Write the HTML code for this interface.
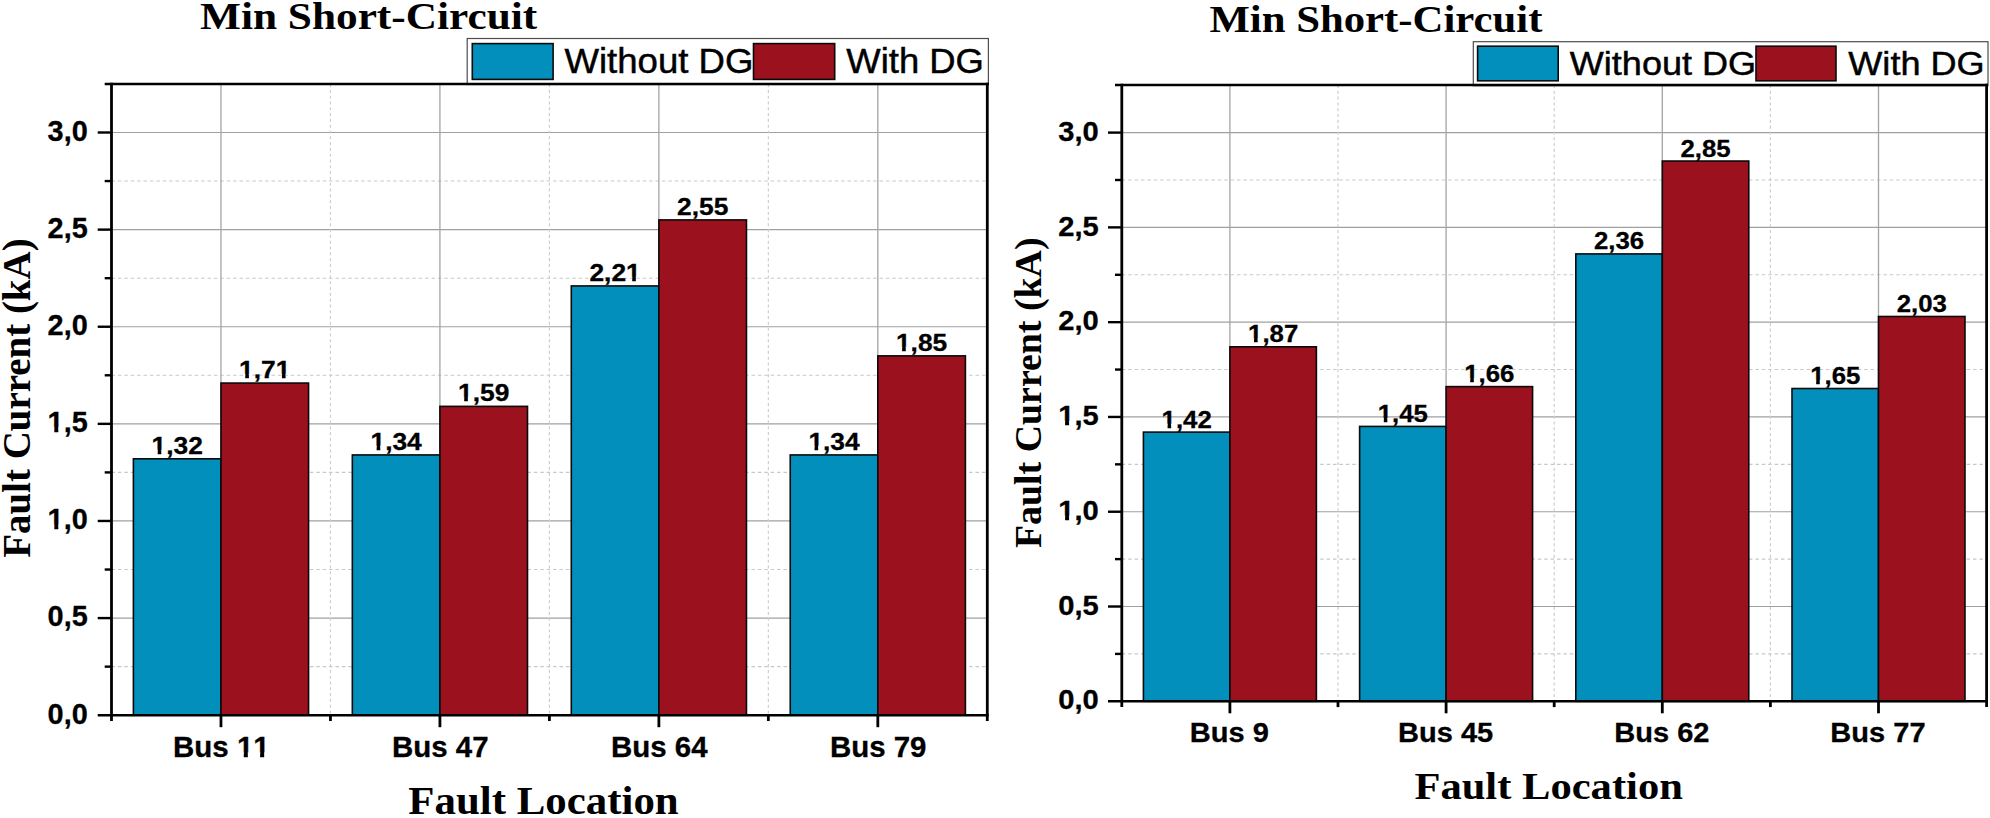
<!DOCTYPE html>
<html lang="en">
<head>
<meta charset="utf-8">
<title>Min Short-Circuit fault current</title>
<style>
html,body{margin:0;padding:0;background:#fff;}
body{width:1990px;height:818px;overflow:hidden;}
svg{display:block;}
text{fill:#000;}
.sans{font-family:'Liberation Sans', Arial, sans-serif;font-kerning:none;}
.serif{font-family:'Liberation Serif', 'Times New Roman', serif;}
.b{font-weight:bold;}
.n{font-weight:normal;}
</style>
</head>
<body>
<svg width="1990" height="818" viewBox="0 0 1990 818">
<rect width="1990" height="818" fill="#fff"/>
<g shape-rendering="geometricPrecision">
<line x1="111.5" x2="987.3" y1="666.64" y2="666.64" stroke="#c8c8c8" stroke-width="1.1" stroke-dasharray="3.5 2.9"/>
<line x1="111.5" x2="987.3" y1="618.08" y2="618.08" stroke="#a0a0a0" stroke-width="1.2"/>
<line x1="111.5" x2="987.3" y1="569.53" y2="569.53" stroke="#c8c8c8" stroke-width="1.1" stroke-dasharray="3.5 2.9"/>
<line x1="111.5" x2="987.3" y1="520.97" y2="520.97" stroke="#a0a0a0" stroke-width="1.2"/>
<line x1="111.5" x2="987.3" y1="472.41" y2="472.41" stroke="#c8c8c8" stroke-width="1.1" stroke-dasharray="3.5 2.9"/>
<line x1="111.5" x2="987.3" y1="423.85" y2="423.85" stroke="#a0a0a0" stroke-width="1.2"/>
<line x1="111.5" x2="987.3" y1="375.29" y2="375.29" stroke="#c8c8c8" stroke-width="1.1" stroke-dasharray="3.5 2.9"/>
<line x1="111.5" x2="987.3" y1="326.73" y2="326.73" stroke="#a0a0a0" stroke-width="1.2"/>
<line x1="111.5" x2="987.3" y1="278.18" y2="278.18" stroke="#c8c8c8" stroke-width="1.1" stroke-dasharray="3.5 2.9"/>
<line x1="111.5" x2="987.3" y1="229.62" y2="229.62" stroke="#a0a0a0" stroke-width="1.2"/>
<line x1="111.5" x2="987.3" y1="181.06" y2="181.06" stroke="#c8c8c8" stroke-width="1.1" stroke-dasharray="3.5 2.9"/>
<line x1="111.5" x2="987.3" y1="132.5" y2="132.5" stroke="#a0a0a0" stroke-width="1.2"/>
<line x1="220.97" x2="220.97" y1="84.05" y2="715.2" stroke="#a4a4a4" stroke-width="1.3"/>
<line x1="330.45" x2="330.45" y1="84.05" y2="715.2" stroke="#cecece" stroke-width="1.2" stroke-dasharray="3.1 2.7"/>
<line x1="439.92" x2="439.92" y1="84.05" y2="715.2" stroke="#a4a4a4" stroke-width="1.3"/>
<line x1="549.4" x2="549.4" y1="84.05" y2="715.2" stroke="#cecece" stroke-width="1.2" stroke-dasharray="3.1 2.7"/>
<line x1="658.88" x2="658.88" y1="84.05" y2="715.2" stroke="#a4a4a4" stroke-width="1.3"/>
<line x1="768.35" x2="768.35" y1="84.05" y2="715.2" stroke="#cecece" stroke-width="1.2" stroke-dasharray="3.1 2.7"/>
<line x1="877.82" x2="877.82" y1="84.05" y2="715.2" stroke="#a4a4a4" stroke-width="1.3"/>
<rect x="133.39" y="458.81" width="87.58" height="256.39" fill="#028fbb" stroke="#0a0a0a" stroke-width="1.6"/>
<rect x="220.97" y="383.06" width="87.58" height="332.14" fill="#9b111e" stroke="#0a0a0a" stroke-width="1.6"/>
<rect x="352.34" y="454.93" width="87.58" height="260.27" fill="#028fbb" stroke="#0a0a0a" stroke-width="1.6"/>
<rect x="439.92" y="406.37" width="87.58" height="308.83" fill="#9b111e" stroke="#0a0a0a" stroke-width="1.6"/>
<rect x="571.29" y="285.94" width="87.58" height="429.26" fill="#028fbb" stroke="#0a0a0a" stroke-width="1.6"/>
<rect x="658.88" y="219.91" width="87.58" height="495.30" fill="#9b111e" stroke="#0a0a0a" stroke-width="1.6"/>
<rect x="790.24" y="454.93" width="87.58" height="260.27" fill="#028fbb" stroke="#0a0a0a" stroke-width="1.6"/>
<rect x="877.82" y="355.87" width="87.58" height="359.33" fill="#9b111e" stroke="#0a0a0a" stroke-width="1.6"/>
<line x1="1121.8" x2="1986.6" y1="653.91" y2="653.91" stroke="#c8c8c8" stroke-width="1.1" stroke-dasharray="3.5 2.9"/>
<line x1="1121.8" x2="1986.6" y1="606.52" y2="606.52" stroke="#a0a0a0" stroke-width="1.2"/>
<line x1="1121.8" x2="1986.6" y1="559.12" y2="559.12" stroke="#c8c8c8" stroke-width="1.1" stroke-dasharray="3.5 2.9"/>
<line x1="1121.8" x2="1986.6" y1="511.73" y2="511.73" stroke="#a0a0a0" stroke-width="1.2"/>
<line x1="1121.8" x2="1986.6" y1="464.34" y2="464.34" stroke="#c8c8c8" stroke-width="1.1" stroke-dasharray="3.5 2.9"/>
<line x1="1121.8" x2="1986.6" y1="416.95" y2="416.95" stroke="#a0a0a0" stroke-width="1.2"/>
<line x1="1121.8" x2="1986.6" y1="369.56" y2="369.56" stroke="#c8c8c8" stroke-width="1.1" stroke-dasharray="3.5 2.9"/>
<line x1="1121.8" x2="1986.6" y1="322.17" y2="322.17" stroke="#a0a0a0" stroke-width="1.2"/>
<line x1="1121.8" x2="1986.6" y1="274.78" y2="274.78" stroke="#c8c8c8" stroke-width="1.1" stroke-dasharray="3.5 2.9"/>
<line x1="1121.8" x2="1986.6" y1="227.38" y2="227.38" stroke="#a0a0a0" stroke-width="1.2"/>
<line x1="1121.8" x2="1986.6" y1="179.99" y2="179.99" stroke="#c8c8c8" stroke-width="1.1" stroke-dasharray="3.5 2.9"/>
<line x1="1121.8" x2="1986.6" y1="132.6" y2="132.6" stroke="#a0a0a0" stroke-width="1.2"/>
<line x1="1229.9" x2="1229.9" y1="85.0" y2="701.3" stroke="#a4a4a4" stroke-width="1.3"/>
<line x1="1338.0" x2="1338.0" y1="85.0" y2="701.3" stroke="#cecece" stroke-width="1.2" stroke-dasharray="3.1 2.7"/>
<line x1="1446.1" x2="1446.1" y1="85.0" y2="701.3" stroke="#a4a4a4" stroke-width="1.3"/>
<line x1="1554.2" x2="1554.2" y1="85.0" y2="701.3" stroke="#cecece" stroke-width="1.2" stroke-dasharray="3.1 2.7"/>
<line x1="1662.3" x2="1662.3" y1="85.0" y2="701.3" stroke="#a4a4a4" stroke-width="1.3"/>
<line x1="1770.4" x2="1770.4" y1="85.0" y2="701.3" stroke="#cecece" stroke-width="1.2" stroke-dasharray="3.1 2.7"/>
<line x1="1878.5" x2="1878.5" y1="85.0" y2="701.3" stroke="#a4a4a4" stroke-width="1.3"/>
<rect x="1143.42" y="432.12" width="86.48" height="269.18" fill="#028fbb" stroke="#0a0a0a" stroke-width="1.6"/>
<rect x="1229.90" y="346.81" width="86.48" height="354.49" fill="#9b111e" stroke="#0a0a0a" stroke-width="1.6"/>
<rect x="1359.62" y="426.43" width="86.48" height="274.87" fill="#028fbb" stroke="#0a0a0a" stroke-width="1.6"/>
<rect x="1446.10" y="386.62" width="86.48" height="314.68" fill="#9b111e" stroke="#0a0a0a" stroke-width="1.6"/>
<rect x="1575.82" y="253.92" width="86.48" height="447.38" fill="#028fbb" stroke="#0a0a0a" stroke-width="1.6"/>
<rect x="1662.30" y="161.04" width="86.48" height="540.26" fill="#9b111e" stroke="#0a0a0a" stroke-width="1.6"/>
<rect x="1792.02" y="388.52" width="86.48" height="312.78" fill="#028fbb" stroke="#0a0a0a" stroke-width="1.6"/>
<rect x="1878.50" y="316.48" width="86.48" height="384.82" fill="#9b111e" stroke="#0a0a0a" stroke-width="1.6"/>
</g>
<g>
<rect x="467.2" y="38.5" width="521.2" height="46" fill="#fff" stroke="#4d4d4d" stroke-width="1.2"/>
<rect x="472.3" y="43.6" width="80.8" height="35.8" fill="#028fbb" stroke="#0a0a0a" stroke-width="1.6"/>
<rect x="753.5" y="43.6" width="81.2" height="35.8" fill="#9b111e" stroke="#0a0a0a" stroke-width="1.6"/>
<rect x="1473.3" y="41.7" width="514.7" height="44" fill="#fff" stroke="#4d4d4d" stroke-width="1.2"/>
<rect x="1477.6" y="46.2" width="80.6" height="34.6" fill="#028fbb" stroke="#0a0a0a" stroke-width="1.6"/>
<rect x="1756.0" y="46.2" width="80.0" height="34.6" fill="#9b111e" stroke="#0a0a0a" stroke-width="1.6"/>
</g>
<g>
<line x1="111.5" x2="111.5" y1="82.85" y2="721.0" stroke="#000" stroke-width="2.8"/>
<line x1="987.3" x2="987.3" y1="82.85" y2="721.0" stroke="#000" stroke-width="2.8"/>
<line x1="104.7" x2="988.70" y1="84.05" y2="84.05" stroke="#000" stroke-width="2.4"/>
<line x1="97.7" x2="988.70" y1="715.2" y2="715.2" stroke="#000" stroke-width="2.4"/>
<line x1="104.7" x2="111.5" y1="666.64" y2="666.64" stroke="#000" stroke-width="2.4"/>
<line x1="97.7" x2="111.5" y1="618.08" y2="618.08" stroke="#000" stroke-width="2.4"/>
<line x1="104.7" x2="111.5" y1="569.53" y2="569.53" stroke="#000" stroke-width="2.4"/>
<line x1="97.7" x2="111.5" y1="520.97" y2="520.97" stroke="#000" stroke-width="2.4"/>
<line x1="104.7" x2="111.5" y1="472.41" y2="472.41" stroke="#000" stroke-width="2.4"/>
<line x1="97.7" x2="111.5" y1="423.85" y2="423.85" stroke="#000" stroke-width="2.4"/>
<line x1="104.7" x2="111.5" y1="375.29" y2="375.29" stroke="#000" stroke-width="2.4"/>
<line x1="97.7" x2="111.5" y1="326.73" y2="326.73" stroke="#000" stroke-width="2.4"/>
<line x1="104.7" x2="111.5" y1="278.18" y2="278.18" stroke="#000" stroke-width="2.4"/>
<line x1="97.7" x2="111.5" y1="229.62" y2="229.62" stroke="#000" stroke-width="2.4"/>
<line x1="104.7" x2="111.5" y1="181.06" y2="181.06" stroke="#000" stroke-width="2.4"/>
<line x1="97.7" x2="111.5" y1="132.50" y2="132.50" stroke="#000" stroke-width="2.4"/>
<line x1="220.97" x2="220.97" y1="715.2" y2="727.2" stroke="#000" stroke-width="2.8"/>
<line x1="439.92" x2="439.92" y1="715.2" y2="727.2" stroke="#000" stroke-width="2.8"/>
<line x1="658.88" x2="658.88" y1="715.2" y2="727.2" stroke="#000" stroke-width="2.8"/>
<line x1="877.82" x2="877.82" y1="715.2" y2="727.2" stroke="#000" stroke-width="2.8"/>
<line x1="330.45" x2="330.45" y1="715.2" y2="721.0" stroke="#000" stroke-width="2.8"/>
<line x1="549.40" x2="549.40" y1="715.2" y2="721.0" stroke="#000" stroke-width="2.8"/>
<line x1="768.35" x2="768.35" y1="715.2" y2="721.0" stroke="#000" stroke-width="2.8"/>
<line x1="1121.8" x2="1121.8" y1="83.80" y2="707.0999999999999" stroke="#000" stroke-width="2.8"/>
<line x1="1986.6" x2="1986.6" y1="83.80" y2="707.0999999999999" stroke="#000" stroke-width="2.8"/>
<line x1="1115.0" x2="1988.00" y1="85.0" y2="85.0" stroke="#000" stroke-width="2.4"/>
<line x1="1108.0" x2="1988.00" y1="701.3" y2="701.3" stroke="#000" stroke-width="2.4"/>
<line x1="1115.0" x2="1121.8" y1="653.91" y2="653.91" stroke="#000" stroke-width="2.4"/>
<line x1="1108.0" x2="1121.8" y1="606.52" y2="606.52" stroke="#000" stroke-width="2.4"/>
<line x1="1115.0" x2="1121.8" y1="559.12" y2="559.12" stroke="#000" stroke-width="2.4"/>
<line x1="1108.0" x2="1121.8" y1="511.73" y2="511.73" stroke="#000" stroke-width="2.4"/>
<line x1="1115.0" x2="1121.8" y1="464.34" y2="464.34" stroke="#000" stroke-width="2.4"/>
<line x1="1108.0" x2="1121.8" y1="416.95" y2="416.95" stroke="#000" stroke-width="2.4"/>
<line x1="1115.0" x2="1121.8" y1="369.56" y2="369.56" stroke="#000" stroke-width="2.4"/>
<line x1="1108.0" x2="1121.8" y1="322.17" y2="322.17" stroke="#000" stroke-width="2.4"/>
<line x1="1115.0" x2="1121.8" y1="274.78" y2="274.78" stroke="#000" stroke-width="2.4"/>
<line x1="1108.0" x2="1121.8" y1="227.38" y2="227.38" stroke="#000" stroke-width="2.4"/>
<line x1="1115.0" x2="1121.8" y1="179.99" y2="179.99" stroke="#000" stroke-width="2.4"/>
<line x1="1108.0" x2="1121.8" y1="132.60" y2="132.60" stroke="#000" stroke-width="2.4"/>
<line x1="1229.90" x2="1229.90" y1="701.3" y2="713.3" stroke="#000" stroke-width="2.8"/>
<line x1="1446.10" x2="1446.10" y1="701.3" y2="713.3" stroke="#000" stroke-width="2.8"/>
<line x1="1662.30" x2="1662.30" y1="701.3" y2="713.3" stroke="#000" stroke-width="2.8"/>
<line x1="1878.50" x2="1878.50" y1="701.3" y2="713.3" stroke="#000" stroke-width="2.8"/>
<line x1="1338.00" x2="1338.00" y1="701.3" y2="707.0999999999999" stroke="#000" stroke-width="2.8"/>
<line x1="1554.20" x2="1554.20" y1="701.3" y2="707.0999999999999" stroke="#000" stroke-width="2.8"/>
<line x1="1770.40" x2="1770.40" y1="701.3" y2="707.0999999999999" stroke="#000" stroke-width="2.8"/>
</g>
<defs>
<clipPath id="c10"><path clip-rule="evenodd" d="M-50 -60H91.1V30H-50ZM0.29 -4.62H6.91V2H0.29ZM10.97 -4.62H17.34V2H10.97Z"/></clipPath>
<clipPath id="c11"><path clip-rule="evenodd" d="M-50 -60H88.6V30H-50ZM0.27 -4.34H6.49V2H0.27ZM10.30 -4.34H16.29V2H10.30Z"/></clipPath>
<clipPath id="c12"><path clip-rule="evenodd" d="M-50 -60H91.1V30H-50ZM0.29 -4.62H6.91V2H0.29ZM10.97 -4.62H17.34V2H10.97Z"/></clipPath>
<clipPath id="c13"><path clip-rule="evenodd" d="M-50 -60H88.6V30H-50ZM0.27 -4.34H6.49V2H0.27ZM10.30 -4.34H16.29V2H10.30Z"/></clipPath>
<clipPath id="c20"><path clip-rule="evenodd" d="M-50 -60H146.4V30H-50ZM63.98 -4.59H70.55V2H63.98ZM74.59 -4.59H86.90V2H74.59ZM90.93 -4.59H97.26V2H90.93Z"/></clipPath>
<clipPath id="c28"><path clip-rule="evenodd" d="M-50 -60H98.3V30H-50ZM0.24 -3.88H5.79V2H0.24ZM9.19 -3.88H14.53V2H9.19Z"/></clipPath>
<clipPath id="c29"><path clip-rule="evenodd" d="M-50 -60H98.3V30H-50ZM0.24 -3.88H5.79V2H0.24ZM9.19 -3.88H14.53V2H9.19ZM34.71 -3.88H40.26V2H34.71ZM43.66 -3.88H49.00V2H43.66Z"/></clipPath>
<clipPath id="c30"><path clip-rule="evenodd" d="M-50 -60H98.3V30H-50ZM0.24 -3.88H5.79V2H0.24ZM9.19 -3.88H14.53V2H9.19Z"/></clipPath>
<clipPath id="c31"><path clip-rule="evenodd" d="M-50 -60H98.3V30H-50ZM0.24 -3.88H5.79V2H0.24ZM9.19 -3.88H14.53V2H9.19Z"/></clipPath>
<clipPath id="c32"><path clip-rule="evenodd" d="M-50 -60H98.3V30H-50ZM34.71 -3.88H40.26V2H34.71ZM43.66 -3.88H49.00V2H43.66Z"/></clipPath>
<clipPath id="c34"><path clip-rule="evenodd" d="M-50 -60H98.3V30H-50ZM0.24 -3.88H5.79V2H0.24ZM9.19 -3.88H14.53V2H9.19Z"/></clipPath>
<clipPath id="c35"><path clip-rule="evenodd" d="M-50 -60H98.3V30H-50ZM0.24 -3.88H5.79V2H0.24ZM9.19 -3.88H14.53V2H9.19Z"/></clipPath>
<clipPath id="c36"><path clip-rule="evenodd" d="M-50 -60H97.9V30H-50ZM0.24 -3.84H5.74V2H0.24ZM9.12 -3.84H14.41V2H9.12Z"/></clipPath>
<clipPath id="c37"><path clip-rule="evenodd" d="M-50 -60H97.9V30H-50ZM0.24 -3.84H5.74V2H0.24ZM9.12 -3.84H14.41V2H9.12Z"/></clipPath>
<clipPath id="c38"><path clip-rule="evenodd" d="M-50 -60H97.9V30H-50ZM0.24 -3.84H5.74V2H0.24ZM9.12 -3.84H14.41V2H9.12Z"/></clipPath>
<clipPath id="c39"><path clip-rule="evenodd" d="M-50 -60H97.9V30H-50ZM0.24 -3.84H5.74V2H0.24ZM9.12 -3.84H14.41V2H9.12Z"/></clipPath>
<clipPath id="c42"><path clip-rule="evenodd" d="M-50 -60H97.9V30H-50ZM0.24 -3.84H5.74V2H0.24ZM9.12 -3.84H14.41V2H9.12Z"/></clipPath>
</defs>
<g>
<text class="serif b" font-size="38.9" transform="translate(200.00 29.10) scale(1.1137 1)">Min Short-Circuit</text>
<text class="serif b" font-size="37.9" transform="translate(1209.40 31.90) scale(1.1286 1)">Min Short-Circuit</text>
<text class="sans n" font-size="34.2" transform="translate(564.50 72.80) scale(1.0692 1)" stroke="#000" stroke-width="0.45">Without DG</text>
<text class="sans n" font-size="34.2" transform="translate(846.30 72.80) scale(1.0661 1)" stroke="#000" stroke-width="0.45">With DG</text>
<text class="sans n" font-size="33.4" transform="translate(1569.80 74.60) scale(1.0798 1)" stroke="#000" stroke-width="0.45">Without DG</text>
<text class="sans n" font-size="33.4" transform="translate(1848.30 74.50) scale(1.0816 1)" stroke="#000" stroke-width="0.45">With DG</text>
<text class="sans b" font-size="29.6" transform="translate(47.60 723.50) scale(0.9759 1)" stroke="#000" stroke-width="0.3">0,0</text>
<text class="sans b" font-size="27.8" transform="translate(1058.30 709.45) scale(1.0476 1)" stroke="#000" stroke-width="0.3">0,0</text>
<text class="sans b" font-size="29.6" transform="translate(47.60 626.38) scale(0.9759 1)" stroke="#000" stroke-width="0.3">0,5</text>
<text class="sans b" font-size="27.8" transform="translate(1058.30 614.67) scale(1.0476 1)" stroke="#000" stroke-width="0.3">0,5</text>
<text class="sans b" font-size="29.6" transform="translate(47.60 529.27) scale(0.9759 1)" stroke="#000" stroke-width="0.3" clip-path="url(#c10)">1,0</text>
<text class="sans b" font-size="27.8" transform="translate(1058.30 519.88) scale(1.0476 1)" stroke="#000" stroke-width="0.3" clip-path="url(#c11)">1,0</text>
<text class="sans b" font-size="29.6" transform="translate(47.60 432.15) scale(0.9759 1)" stroke="#000" stroke-width="0.3" clip-path="url(#c12)">1,5</text>
<text class="sans b" font-size="27.8" transform="translate(1058.30 425.10) scale(1.0476 1)" stroke="#000" stroke-width="0.3" clip-path="url(#c13)">1,5</text>
<text class="sans b" font-size="29.6" transform="translate(47.60 335.03) scale(0.9759 1)" stroke="#000" stroke-width="0.3">2,0</text>
<text class="sans b" font-size="27.8" transform="translate(1058.30 330.32) scale(1.0476 1)" stroke="#000" stroke-width="0.3">2,0</text>
<text class="sans b" font-size="29.6" transform="translate(47.60 237.92) scale(0.9759 1)" stroke="#000" stroke-width="0.3">2,5</text>
<text class="sans b" font-size="27.8" transform="translate(1058.30 235.53) scale(1.0476 1)" stroke="#000" stroke-width="0.3">2,5</text>
<text class="sans b" font-size="29.6" transform="translate(47.60 140.80) scale(0.9759 1)" stroke="#000" stroke-width="0.3">3,0</text>
<text class="sans b" font-size="27.8" transform="translate(1058.30 140.75) scale(1.0476 1)" stroke="#000" stroke-width="0.3">3,0</text>
<text class="sans b" font-size="29.4" transform="translate(173.10 757.20) scale(1.0017 1)" stroke="#000" stroke-width="0.3" clip-path="url(#c20)">Bus 11</text>
<text class="sans b" font-size="28.2" transform="translate(1189.84 742.00) scale(1.0309 1)" stroke="#000" stroke-width="0.3">Bus 9</text>
<text class="sans b" font-size="29.4" transform="translate(392.05 757.20) scale(1.0017 1)" stroke="#000" stroke-width="0.3">Bus 47</text>
<text class="sans b" font-size="28.2" transform="translate(1397.96 742.00) scale(1.0309 1)" stroke="#000" stroke-width="0.3">Bus 45</text>
<text class="sans b" font-size="29.4" transform="translate(611.00 757.20) scale(1.0017 1)" stroke="#000" stroke-width="0.3">Bus 64</text>
<text class="sans b" font-size="28.2" transform="translate(1614.16 742.00) scale(1.0309 1)" stroke="#000" stroke-width="0.3">Bus 62</text>
<text class="sans b" font-size="29.4" transform="translate(829.95 757.20) scale(1.0017 1)" stroke="#000" stroke-width="0.3">Bus 79</text>
<text class="sans b" font-size="28.2" transform="translate(1830.36 742.00) scale(1.0309 1)" stroke="#000" stroke-width="0.3">Bus 77</text>
<text class="sans b" font-size="24.8" transform="translate(151.54 453.61) scale(1.0629 1)" stroke="#000" stroke-width="0.3" clip-path="url(#c28)">1,32</text>
<text class="sans b" font-size="24.8" transform="translate(239.12 377.86) scale(1.0629 1)" stroke="#000" stroke-width="0.3" clip-path="url(#c29)">1,71</text>
<text class="sans b" font-size="24.8" transform="translate(370.49 449.73) scale(1.0629 1)" stroke="#000" stroke-width="0.3" clip-path="url(#c30)">1,34</text>
<text class="sans b" font-size="24.8" transform="translate(458.07 401.17) scale(1.0629 1)" stroke="#000" stroke-width="0.3" clip-path="url(#c31)">1,59</text>
<text class="sans b" font-size="24.8" transform="translate(589.44 280.74) scale(1.0629 1)" stroke="#000" stroke-width="0.3" clip-path="url(#c32)">2,21</text>
<text class="sans b" font-size="24.8" transform="translate(677.02 214.71) scale(1.0629 1)" stroke="#000" stroke-width="0.3">2,55</text>
<text class="sans b" font-size="24.8" transform="translate(808.39 449.73) scale(1.0629 1)" stroke="#000" stroke-width="0.3" clip-path="url(#c34)">1,34</text>
<text class="sans b" font-size="24.8" transform="translate(895.97 350.67) scale(1.0629 1)" stroke="#000" stroke-width="0.3" clip-path="url(#c35)">1,85</text>
<text class="sans b" font-size="24.6" transform="translate(1161.58 427.62) scale(1.0479 1)" stroke="#000" stroke-width="0.3" clip-path="url(#c36)">1,42</text>
<text class="sans b" font-size="24.6" transform="translate(1248.06 342.31) scale(1.0479 1)" stroke="#000" stroke-width="0.3" clip-path="url(#c37)">1,87</text>
<text class="sans b" font-size="24.6" transform="translate(1377.78 421.93) scale(1.0479 1)" stroke="#000" stroke-width="0.3" clip-path="url(#c38)">1,45</text>
<text class="sans b" font-size="24.6" transform="translate(1464.26 382.12) scale(1.0479 1)" stroke="#000" stroke-width="0.3" clip-path="url(#c39)">1,66</text>
<text class="sans b" font-size="24.6" transform="translate(1593.98 249.42) scale(1.0479 1)" stroke="#000" stroke-width="0.3">2,36</text>
<text class="sans b" font-size="24.6" transform="translate(1680.46 156.54) scale(1.0479 1)" stroke="#000" stroke-width="0.3">2,85</text>
<text class="sans b" font-size="24.6" transform="translate(1810.18 384.02) scale(1.0479 1)" stroke="#000" stroke-width="0.3" clip-path="url(#c42)">1,65</text>
<text class="sans b" font-size="24.6" transform="translate(1896.66 311.98) scale(1.0479 1)" stroke="#000" stroke-width="0.3">2,03</text>
<text class="serif b" font-size="39.2" transform="translate(408.30 814.30) scale(1.0942 1)">Fault Location</text>
<text class="serif b" font-size="38.2" transform="translate(1414.40 799.20) scale(1.1149 1)">Fault Location</text>
<text class="serif b" font-size="39.5" transform="translate(29.90 557.80) rotate(-90) scale(0.9858 1)">Fault Current (kA)</text>
<text class="serif b" font-size="38.4" transform="translate(1041.20 548.00) rotate(-90) scale(0.9859 1)">Fault Current (kA)</text>
</g>
</svg>
</body>
</html>
